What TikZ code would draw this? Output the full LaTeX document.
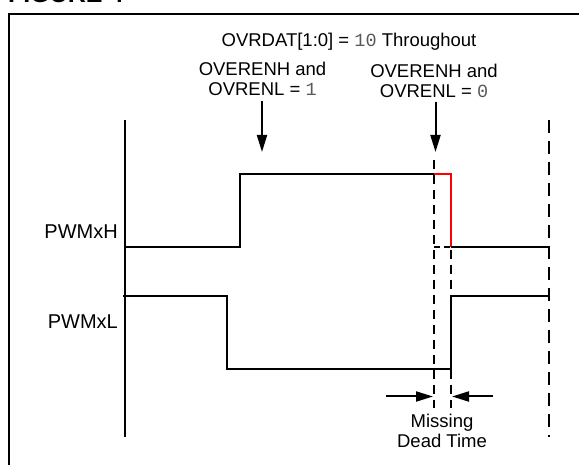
\documentclass[tikz,border=0pt]{standalone}
\usepackage{fontspec}
\setmainfont{Liberation Sans}
\setmonofont{Liberation Mono}
\usetikzlibrary{arrows.meta}
\begin{document}
\begin{tikzpicture}[x=1pt,y=-1pt,
  wave/.style={line width=2pt,line join=miter},
  hot/.style={wave,draw=red},
  dline/.style={line width=2pt,dash pattern=on 9pt off 6pt},
  dlong/.style={line width=2pt,dash pattern=on 13pt off 8pt},
  arr/.style={line width=2pt,-{Triangle[length=17pt,width=10pt]}},
  lbl/.style={font=\fontsize{18.5}{19.5}\selectfont,align=center,inner sep=0pt},
  sig/.style={font=\fontsize{20}{22}\selectfont,inner sep=0pt,anchor=base east},
  num/.style={}]
\newcommand{\mnum}[1]{{\ttfamily\color{black!65}#1}}
\useasboundingbox (0,0) rectangle (579,465);
\begin{scope}
\clip (0,0) rectangle (579,465);
\node[anchor=base west,inner sep=0pt,font=\fontsize{25}{27}\selectfont\bfseries] (title) at (8,3) {FIGURE 4-};
\draw[line width=2pt] (9.3,485) -- (9.3,14.3) -- (590,14.3);
\end{scope}
% axis
\draw[wave] (125,120) -- (125,437);
% labels
\node[sig] (pwmh) at (118,239) {PWMxH};
\node[sig] (pwml) at (118,329) {PWMxL};
% PWMxH
\draw[wave] (125,247.5) -- (240,247.5) -- (240,174) -- (434,174);
\draw[hot] (434,174) -- (451,174) -- (451,247.5);
\draw[wave] (451,247.5) -- (549,247.5);
\draw[line width=2pt,dash pattern=on 6pt off 4pt] (434,247.5) -- (451,247.5);
% PWMxL
\draw[wave] (123,296) -- (227,296) -- (227,369) -- (451,369) -- (451,296) -- (549,296);
% dashed markers
\draw[dline] (434,160) -- (434,408);
\draw[dline] (451,250) -- (451,408);
\draw[dlong] (549,120) -- (549,437);
% top texts
\node[lbl,anchor=base] (ovrdat) at (349,46.5) {OVRDAT[1:0] = \mnum{10} Throughout};
\node[lbl] (en1) at (262.5,79) {OVERENH and\\OVRENL = \mnum{1}};
\node[lbl] (en0) at (434,81) {OVERENH and\\OVRENL = \mnum{0}};
\coordinate (t1) at (262,152);
\coordinate (t0) at (435.5,152);
\draw[arr] (262,101) -- (t1);
\draw[arr] (435.5,102) -- (t0);
% missing dead time
\coordinate (ml) at (433,396.5);
\coordinate (mr) at (452,396.5);
\draw[arr] (386,396.5) -- (ml);
\draw[arr] (493,396.5) -- (mr);
\node[lbl] (mdt) at (442,431) {Missing\\Dead Time};
\end{tikzpicture}
\end{document}
